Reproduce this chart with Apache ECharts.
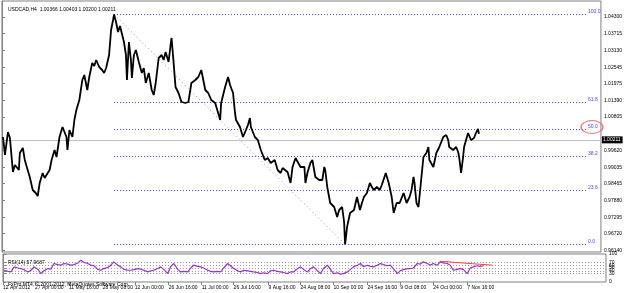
<!DOCTYPE html>
<html><head><meta charset="utf-8">
<script src="https://cdn.jsdelivr.net/npm/echarts@6/dist/echarts.min.js"></script>
<style>html,body{margin:0;padding:0;background:#fff}#c{width:625px;height:293px}</style>
</head><body><div id="c"></div>
<script>
// H4 bar index (0 = 12 Apr 2012 00:00) and close price
const priceBars = [2,6,12,16,20,22,26,30,34,36,42,46,50,56,62,68,72,76,82,86,90,96,100,106,110,116,122,126,130,132,136,142,146,150,156,162,166,172,176,182,186,190,196,202,206,210,216,220,224,226,230,234,238,242,246,250,252,256,260,262,266,270,276,282,286,290,296,302,306,310,316,322,326,330,336,340,342,346,350,356,362,366,370,376,382,386,390,396,402,406,410,416,422,430,436,440,442,450,456,460,462,466,470,472,476,480,486,492,496,500,502,506,510,516,522,526,530,536,542,546,550,556,562,566,570,576,582,586,592,596,602,606,610,612,616,622,626,632,636,640,646,650,652,656,662,666,670,676,680,686,690,692,696,702,706,710,716,722,726,730,736,742,746,750,756,762,766,770,774,780,786,790,796,802,806,810,816,822,826,830,832,836,840,846,850,856,860,862,866,870,876,882,886,890,896,900,902,906,910,916,920,922,926,930,932,936,940,946,952,956,960,962];
const priceClose = [1.001,0.9947,1.00275,1.00065,0.99995,0.98875,0.9912,0.99085,0.98945,0.9954,0.99715,0.99295,0.9905,0.987,0.98245,0.9814,0.98035,0.9849,0.9884,0.98665,0.98595,0.98945,0.99295,0.99645,0.994,1.001,1.0045,1.00275,1.001,0.99645,1.00345,1.001,1.00695,1.01045,1.01395,1.02095,1.0227,1.01745,1.022,1.0269,1.02585,1.02795,1.0255,1.02445,1.0234,1.02515,1.0297,1.03845,1.04195,1.0439,1.04125,1.03775,1.03985,1.03915,1.03425,1.0297,1.02095,1.03425,1.02795,1.02165,1.0297,1.03145,1.02725,1.0234,1.02515,1.0199,1.0234,1.01745,1.0157,1.0199,1.02865,1.0297,1.02795,1.03075,1.02725,1.0332,1.03565,1.02725,1.0185,1.0164,1.01325,1.01255,1.0129,1.01325,1.0199,1.0192,1.02095,1.022,1.02445,1.02095,1.01745,1.0164,1.01395,1.0129,1.0094,1.00695,1.0129,1.0185,1.022,1.0192,1.0185,1.0164,1.0094,1.00695,1.00625,1.0045,1.001,1.00345,1.0052,1.00765,1.0045,1.00275,1.001,0.99995,0.99645,0.9947,0.99295,0.99365,0.9919,0.99225,0.99295,0.98945,0.9884,0.99015,0.98945,0.98875,0.9849,0.9905,0.99365,0.994,0.9905,0.9912,0.9905,0.9849,0.9884,0.9919,0.99295,0.987,0.98665,0.98595,0.98595,0.9905,0.98945,0.9835,0.9779,0.9772,0.9765,0.973,0.97545,0.9765,0.97125,0.9634,0.9695,0.9744,0.9744,0.97545,0.98,0.97545,0.9779,0.98,0.9814,0.9849,0.9835,0.98245,0.9835,0.98245,0.9842,0.9849,0.9884,0.9849,0.98,0.9744,0.9779,0.9779,0.97965,0.9814,0.9779,0.98,0.98245,0.987,0.9849,0.9779,0.9765,0.987,0.994,0.9954,0.9975,0.99295,0.99225,0.9905,0.9954,0.9975,0.99925,1.001,1.0017,0.99995,0.9975,0.99715,0.99645,0.9975,0.99575,0.994,0.9884,0.994,0.9975,0.99995,1.0024,0.99995,1.00065,1.0024,1.0038,1.00211];
const rsiBars = [2,10,16,22,30,36,42,50,56,62,70,76,82,90,96,102,110,116,122,130,136,142,150,156,162,170,176,182,190,196,202,210,216,222,230,236,242,250,256,262,270,276,282,290,296,302,310,316,322,330,336,342,350,356,362,370,376,382,390,396,402,410,416,422,430,436,442,450,456,462,470,476,482,490,496,502,510,516,522,530,536,542,550,556,562,570,576,582,590,596,602,610,616,622,630,636,642,650,656,662,670,676,682,690,696,702,710,716,722,730,736,742,750,756,762,770,776,782,790,796,802,810,816,822,830,836,842,850,856,862,870,876,882,890,896,902,910,916,922,930,936,942,950,956,962];
const rsiValues = [42,38,36,54,50,48,44,36,42,54,45,30,40,48,46,66,62,60,66,64,60,62,68,78,70,66,60,58,45,42,48,52,60,72,60,54,45,42,42,44,48,46,42,36,40,42,48,54,45,30,55,66,45,36,38,36,50,60,56,54,50,42,38,36,38,36,50,66,58,48,40,36,42,40,38,36,34,30,33,30,40,42,38,36,34,30,36,36,48,54,45,36,48,54,40,30,48,60,45,30,33,28,30,36,45,54,60,66,55,60,56,54,60,66,62,58,60,48,30,40,44,48,48,50,66,64,72,66,60,66,60,72,68,66,60,42,45,48,45,30,50,54,58,56,57.9687];
const priceTicks = [1.04300,1.03715,1.03130,1.02545,1.01975,1.01390,1.00805,0.99620,0.99035,0.98465,0.97880,0.97295,0.96720,0.96140];
const rsiTicks = [0,30,40,50,60,70,100];
const rsiLevels = [70,60,50,40,30];
const timeTickBars = [0,64,132,200,264,332,398,462,532,596,662,730,796,862,930];
const timeTickLabels = ['12 Apr 2012','27 Apr 00:00','11 May 16:00','28 May 08:00','12 Jun 00:00','26 Jun 16:00','11 Jul 00:00','26 Jul 16:00','9 Aug 16:00','24 Aug 08:00','10 Sep 00:00','24 Sep 16:00','9 Oct 08:00','24 Oct 00:00','7 Nov 16:00'];
const fibHigh = 1.0439, fibHighBar = 226;
const fibLow = 0.9634, fibLowBar = 692;
const fibEndBar = 1182;
const fibLevels = [100, 61.8, 50, 38.2, 23.6, 0];
const lastPrice = 1.00211;
const header = 'USDCAD,H4  1.00366 1.00403 1.00200 1.00211';
const rsiHeader = 'RSI(14) 57.9687';
const footer = 'FxPro MT4, © 2001-2012, MetaQuotes Software Corp.';
const divLine = [[876, 74], [980, 60]];
const divLabel = [918, 89];
const circleAt = [1190, 1.0045];

const FONT = 'Liberation Sans';
const fs = 5;
const chart = echarts.init(document.getElementById('c'), null, {renderer:'canvas'});
const fibData = fibLevels.map(l => {
  const v = fibLow + (fibHigh - fibLow) * l / 100;
  return [{coord:[fibHighBar, v]}, {coord:[fibEndBar, v], label:{formatter: l.toFixed(1)}}];
});
const xLabel = {};
timeTickBars.forEach((b,i)=> xLabel[b] = timeTickLabels[i]);
chart.setOption({
  animation:false,
  backgroundColor:'#fff',
  textStyle:{fontFamily:FONT},
  title:[
    {text:header, left:3, top:2, textStyle:{fontSize:fs, fontWeight:'normal', color:'#000', fontFamily:FONT}},
    {text:rsiHeader, left:3, top:255, textStyle:{fontSize:fs, fontWeight:'normal', color:'#000', fontFamily:FONT}},
    {text:footer, left:3, top:277, textStyle:{fontSize:fs, fontWeight:'normal', color:'#000', fontFamily:FONT}}
  ],
  grid:[
    {left:2, right:19, top:1, height:251, show:true, borderColor:'#808080', borderWidth:1},
    {left:2, right:19, top:254, height:28, show:true, borderColor:'#808080', borderWidth:1}
  ],
  xAxis:[
    {type:'value', gridIndex:0, min:0, max:1208, axisLine:{show:false}, axisTick:{show:false}, axisLabel:{show:false}, splitLine:{show:false}},
    {type:'value', gridIndex:1, min:0, max:1208, position:'bottom',
     axisLine:{show:false},
     axisTick:{show:true, length:3, lineStyle:{color:'#808080'}, customValues:timeTickBars},
     axisLabel:{show:true, customValues:timeTickBars, formatter:v=>xLabel[v]||'', align:'left', margin:3, fontSize:fs, color:'#000', fontFamily:FONT},
     splitLine:{show:false}}
  ],
  yAxis:[
    {type:'value', gridIndex:0, position:'right', min:0.96075, max:1.0486, scale:true,
     axisLine:{show:true, lineStyle:{color:'#808080'}},
     axisTick:{show:true, length:3, lineStyle:{color:'#808080'}, customValues:priceTicks},
     axisLabel:{show:true, customValues:priceTicks, formatter:v=>v.toFixed(5), margin:3, fontSize:fs, color:'#000', fontFamily:FONT},
     splitLine:{show:false}},
    {type:'value', gridIndex:1, position:'right', min:0, max:100,
     axisLine:{show:true, lineStyle:{color:'#808080'}},
     axisTick:{show:true, length:3, lineStyle:{color:'#808080'}, customValues:rsiTicks},
     axisLabel:{show:true, customValues:rsiTicks, margin:3, fontSize:fs, color:'#000', fontFamily:FONT},
     splitLine:{show:false}}
  ],
  series:[
    {type:'line', xAxisIndex:0, yAxisIndex:0, data:priceBars.map((b,i)=>[b, priceClose[i]]),
     showSymbol:false, lineStyle:{color:'#000', width:1.8}, clip:false, z:5,
     markLine:{silent:true, symbol:['none','none'], animation:false,
       lineStyle:{color:'#4646ff', type:[1,2], width:1},
       label:{show:true, position:'end', distance:0, verticalAlign:'bottom', color:'#4646ff', fontSize:fs, fontFamily:FONT},
       data:[
         ...fibData,
         [{coord:[fibHighBar, fibHigh], lineStyle:{color:'#8080ff', type:[1,3]}, label:{show:false}}, {coord:[fibLowBar, fibLow], label:{show:false}}],
         {yAxis:lastPrice, lineStyle:{color:'#c0c0c0', type:'solid', width:1},
          label:{show:true, position:'end', distance:1, verticalAlign:'middle', formatter:lastPrice.toFixed(5), color:'#fff', backgroundColor:'#000', padding:[1,2,1,1], fontSize:fs}}
       ]},
     markPoint:{silent:true, animation:false, data:[{coord:circleAt, symbol:'circle', symbolSize:[22,13],
       itemStyle:{color:'rgba(0,0,0,0)', borderColor:'#f07070', borderWidth:1}, label:{show:false}}]}
    },
    {type:'line', xAxisIndex:1, yAxisIndex:1, data:rsiBars.map((b,i)=>[b, rsiValues[i]]),
     showSymbol:false, lineStyle:{color:'#9932cc', width:1.2}, z:5,
     markLine:{silent:true, symbol:['none','none'], animation:false,
       label:{show:false},
       data:[
         ...rsiLevels.map(l=>({yAxis:l, lineStyle:{color:'#a0a0a0', type:[1,2], width:1}})),
         [{coord:divLine[0], lineStyle:{color:'#ff4040', type:'solid', width:1}}, {coord:divLine[1]}]
       ]},
     markPoint:{silent:true, animation:false, data:[{coord:divLabel, symbol:'none', symbolSize:0,
       label:{show:true, formatter:'div', color:'#ff3030', fontSize:fs, fontFamily:FONT}}]}
    }
  ]
});
</script></body></html>
